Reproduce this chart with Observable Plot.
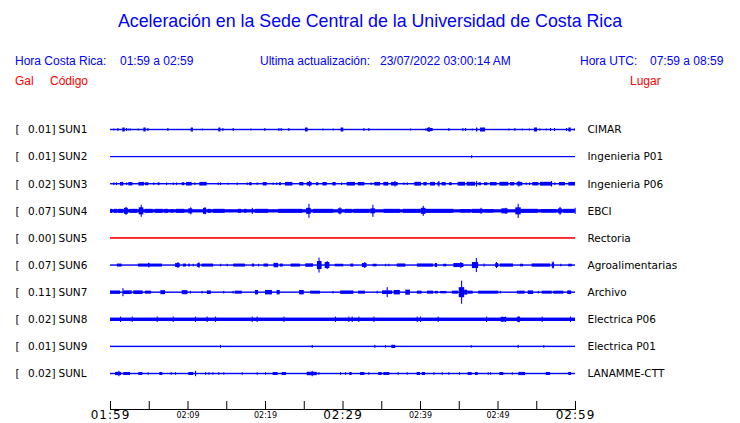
<!DOCTYPE html>
<html><head><meta charset="utf-8">
<script src="https://cdn.jsdelivr.net/npm/d3@7"></script>
<script src="https://cdn.jsdelivr.net/npm/@observablehq/plot@0.6"></script>
<style>
body{margin:0;background:#fff;width:740px;height:423px;overflow:hidden;font-family:"Liberation Sans",Arial,sans-serif;}
#head{position:relative;height:100px;width:740px;}
#head span{position:absolute;white-space:pre;font-size:12px;line-height:14px;}
#head .title{left:0;width:740px;text-align:center;top:10px;font-size:17.8px;line-height:22px;color:blue;}
.b{color:blue;} .r{color:red;}
#chart svg{display:block;}
</style></head>
<body>
<div id="head"></div>
<div id="chart"></div>
<script>
// ---- texts ----
const TITLE = "Aceleración en la Sede Central de la Universidad de Costa Rica";
const HEADER_ROW1 = ["Hora Costa Rica:", "01:59 a 02:59", "Ultima actualización:", "23/07/2022 03:00:14 AM", "Hora UTC:", "07:59 a 08:59"];
const HEADER_ROW2 = ["Gal", "Código", "Lugar"];

// ---- stations ----
const codes  = ["SUN1","SUN2","SUN3","SUN4","SUN5","SUN6","SUN7","SUN8","SUN9","SUNL"];
const peaks  = [0.01, 0.01, 0.02, 0.07, 0.00, 0.07, 0.11, 0.02, 0.01, 0.02];
const places = ["CIMAR","Ingenieria P01","Ingenieria P06","EBCI","Rectoria","Agroalimentarias","Archivo","Electrica P06","Electrica P01","LANAMME-CTT"];
// baseline (background noise) level per trace
const noise  = [0.7, 0.6, 0.7, 1.6, 0.8, 0.7, 0.7, 1.7, 0.7, 0.7];

// ---- time axis (minutes after 01:59) ----
const majorTicks = [0, 5, 10, 15, 20, 25, 30, 35, 40, 45, 50, 55, 60];
const bigLabelTimes = [0, 30, 60];
const bigLabels = ["01:59", "02:29", "02:59"];
const smallLabelTimes = [10, 20, 40, 50];
const smallLabels = ["02:09", "02:19", "02:39", "02:49"];

// ---- bursts per trace: [start minute, end minute, half amplitude] ----
const SUN1 = [[0.43,0.43,1],[0.95,0.95,1.5],[1.59,1.9,2],[2.06,2.06,1.5],[2.37,2.37,1],[2.58,2.58,1],[3.57,3.57,1],[4.30,4.6,2],[4.82,4.82,1.5],[7.40,7.40,1.5],[10.41,10.7,2],[11.83,11.83,1],[13.98,14.25,2],[14.49,14.49,1.5],[15.83,15.83,1.5],[18.11,18.11,1],[19.91,19.91,1.5],[21.72,21.72,1.5],[22.02,22.02,1.5],[23.01,23.01,1.5],[25.16,25.5,2],[27.40,27.40,1],[28.73,28.73,1],[29.76,30.1,2],[32.69,32.69,1.5],[33.33,33.33,1.5],[38.71,38.71,1],[40.65,40.65,1],[40.86,41.63,1.5],[41.0,41.3,2.2],[43.66,43.66,1.5],[45.46,45.46,1.5],[45.81,45.81,1.5],[46.67,46.67,1],[47.23,47.4,2],[47.74,48.39,2],[51.40,51.40,1],[52.17,52.17,1.5],[53.12,53.12,1],[54.06,54.06,1],[54.71,55.10,2],[55.40,55.40,1],[56.22,56.22,1],[56.77,56.9,1.5],[57.29,57.29,1.5],[58.84,58.84,1.5],[59.14,59.45,2],[59.85,59.85,1]];
const SUN2 = [[46.6,46.6,1.5]];
const SUN3 = [[0.43,0.43,1.3],[0.77,0.77,1.3],[1.29,1.72,1.8],[2.06,2.06,1.3],[2.37,2.88,1.7],[3.66,4.39,1.8],[4.52,4.95,1.5],[5.59,5.59,1.3],[6.15,6.37,1.5],[7.23,7.23,1.3],[8.09,8.09,1.3],[8.52,8.52,1.3],[9.25,9.59,1.5],[9.81,10.54,1.8],[10.88,10.88,1.3],[11.53,12.47,1.8],[13.89,13.89,1.3],[14.19,14.19,1.3],[15.18,15.18,1],[16.34,16.34,1.3],[17.63,17.63,1.3],[17.93,18.28,1.5],[18.92,18.92,1.3],[19.70,20.22,1.7],[20.99,20.99,1.3],[21.42,21.42,1.3],[21.81,22.06,1.5],[22.58,23.53,1.8],[24.43,24.95,1.7],[25.38,26.02,1.8],[25.68,25.68,2.8],[26.58,26.88,1.5],[27.40,27.96,1.7],[28.69,29.12,1.7],[29.81,29.81,1.3],[30.54,31.61,1.8],[31.96,32.82,1.7],[33.63,33.63,1.3],[34.11,34.84,1.8],[35.27,35.91,1.8],[36.26,37.12,1.8],[36.69,36.69,2.8],[37.85,37.85,1.3],[38.28,38.28,1.3],[39.27,40.13,1.9],[40.43,40.86,1.7],[41.29,41.94,1.8],[42.24,42.49,1.7],[42.37,42.37,2.8],[42.79,43.31,1.7],[43.74,44.09,1.5],[44.86,45.81,1.9],[46.02,47.10,1.9],[47.23,47.23,2.8],[47.53,47.87,1.5],[48.26,48.69,1.5],[49.03,49.89,1.7],[50.24,51.40,1.9],[51.61,52.17,1.7],[52.47,53.20,1.8],[52.69,52.69,2.8],[53.63,53.63,1.3],[54.06,54.06,1.3],[54.49,55.27,1.7],[55.48,56.99,1.9],[56.90,56.90,2.8],[57.33,57.33,1.3],[57.93,58.71,1.7],[59.14,60,1.8]];
const SUN4 = [[0,0.3,2],[0.5,0.9,2],[1.0,1.7,2],[1.8,2.3,3],[2.0,2.0,4],[2.5,3.5,2],[3.7,4.3,3.5],[3.96,3.96,6],[4.5,5.5,2],[5.8,6.8,2],[7.0,7.5,2],[7.8,8.2,1.8],[8.5,9.6,2],[10.1,10.6,2.5],[10.35,10.35,3.5],[12.0,12.4,3],[12.2,12.2,3.5],[12.6,13.0,2],[13.3,14.8,2],[15.4,15.4,1.5],[16.5,16.9,2],[17.3,17.6,2],[18.3,18.3,3],[18.7,20.4,2],[21.0,21.0,1.5],[21.7,24.8,2],[25.3,25.9,3],[25.6,25.6,7],[26.2,28.8,2],[29.4,29.9,2.5],[29.6,29.6,3.5],[30.3,31.2,2],[31.4,33.5,2],[33.6,34.2,2.5],[33.85,33.85,6],[35.3,37.4,2],[37.8,40.0,2],[40.1,40.7,3],[40.35,40.35,5],[40.6,44.3,2],[45.2,46.5,1.8],[46.7,48.1,2],[47.8,47.8,3],[48.3,49.5,1.8],[50.5,51.3,2.5],[51.0,51.0,3],[52.3,53.0,3.5],[52.6,52.6,7],[53.0,55.2,2],[55.6,57.6,1.8],[57.8,58.3,2.5],[58.0,58.0,4],[58.5,59.9,2],[59.95,59.95,3]];
const SUN5 = [];
const SUN6 = [[0.9,1.5,1.5],[3.6,6.7,1.5],[4.9,5.1,2.2],[8.4,9.0,2],[8.7,8.7,3],[9.4,9.8,1.5],[10.1,10.3,1.5],[10.67,10.67,1.3],[11.2,11.6,1.8],[11.4,11.4,2.8],[11.8,13.3,1.5],[14.2,14.2,1.3],[15.05,15.05,1.3],[15.9,17.4,1.5],[18.3,18.6,1.5],[19.1,19.1,1.3],[19.8,20.4,1.5],[21.1,21.7,2.2],[21.9,22.3,1.5],[23.3,24.5,1.5],[25.2,26.2,1.7],[26.7,27.3,4],[26.9,26.9,7.5],[27.7,28.3,3],[27.95,27.95,4],[29.0,30.1,1.3],[31.0,31.4,1.5],[32.5,33.1,2],[32.8,32.8,3],[33.9,34.4,1.3],[35.5,35.5,1.3],[35.9,35.9,1.3],[37.0,38.1,1.6],[39.6,41.7,1.6],[41.9,42.2,2],[43.0,43.4,1.3],[44.3,45.6,2],[45.2,45.2,3],[46.7,47.5,3],[47.2,47.2,7],[48.2,48.2,1.5],[49.7,50.1,2],[49.8,49.8,3],[50.3,52.0,1.6],[52.9,53.3,1.3],[54.4,56.8,1.6],[57.0,57.3,2.5],[57.1,57.1,3.5],[58.1,58.1,1.3],[59.1,59.6,1.3]];
const SUN7 = [[0,1.3,1.7],[1.6,1.6,4],[1.7,2.8,1.8],[3.0,4.2,1.8],[4.5,5.3,1.5],[6.5,7.1,2],[9.25,10.0,2],[10.3,10.3,1.3],[11.8,11.8,1.3],[12.5,13.0,1.8],[14.6,14.6,1.3],[15.8,15.8,1.3],[16.1,17.0,1.5],[18.7,19.1,2.2],[20.0,20.9,2.2],[21.5,21.9,2.2],[24.4,25.0,2.2],[25.8,27.1,1.5],[28.7,28.7,1.3],[29.7,31.4,1.7],[32.0,32.9,1.5],[34.4,34.4,1.3],[35.1,36.4,1.8],[35.7,35.7,5],[36.6,37.4,2.2],[38.1,38.7,2.5],[39.6,40.2,1.5],[40.9,41.7,1.5],[41.9,42.3,1.3],[42.6,43.4,1.2],[44.1,44.9,1.5],[45.0,45.7,5],[45.3,45.3,11.5],[45.7,46.1,2.5],[46.1,46.8,1.5],[47.5,50.1,1.5],[50.3,50.3,1.3],[52.5,53.5,1.5],[53.9,54.6,1.8],[55.2,55.2,1.3],[55.7,57.0,1.5],[57.2,58.5,1.5],[59.0,59.5,1.8]];
const SUN8 = [[1.29,1.29,2.7],[2.80,2.80,2.7],[6.02,6.02,2.7],[8.09,8.09,2.7],[10.97,10.97,2.7],[12.47,12.47,2.7],[13.55,13.55,2.7],[18.28,18.28,2.7],[18.92,18.92,2.7],[22.37,22.37,2.7],[29.03,29.03,2.7],[30.75,30.75,2.7],[31.18,31.18,2.7],[32.04,32.04,2.7],[33.98,33.98,2.7],[39.57,39.57,2.7],[40.0,40.0,2.7],[42.28,42.28,2.7],[48.52,48.52,2.7],[50.4,51.1,2.3],[50.54,50.54,2.7],[50.97,50.97,2.7],[52.5,52.9,2.5],[52.69,52.69,3],[55.70,55.70,2.7],[59.35,59.35,2.7]];
const SUN9 = [[14.19,14.19,1.5],[26.02,26.02,1.5],[34.1,34.1,1.5],[35.48,35.48,1.3],[36.3,36.8,1.6],[46.54,46.54,1.3],[52.6,52.6,1.6],[55.91,55.91,1.3]];
const SUNL = [[0.65,1.42,1.6],[1.08,1.08,2.7],[1.72,2.58,1.5],[3.66,4.17,1.5],[4.86,4.86,1.3],[6.37,6.75,1.5],[7.83,7.83,1.3],[8.39,8.39,1.3],[10.11,10.75,1.5],[10.97,10.97,2.7],[12.26,12.26,1.3],[12.69,12.69,1.3],[13.20,13.20,1.3],[13.98,13.98,1.3],[14.62,14.62,1.3],[16.99,16.99,1.3],[18.92,18.92,1.3],[20.0,20.0,1.3],[20.99,21.63,1.5],[22.15,22.71,1.5],[25.38,26.67,1.7],[26.02,26.02,2.7],[26.88,26.88,1.3],[29.68,29.68,1.3],[30.32,30.32,1.3],[30.88,31.18,1.5],[32.26,32.82,1.5],[33.33,33.33,1.3],[34.62,35.05,1.5],[35.27,36.04,1.5],[37.12,37.12,1.3],[38.28,38.28,1.3],[39.57,40.0,1.5],[40.22,40.65,1.5],[41.72,41.72,1.3],[42.80,42.80,1.3],[43.66,43.66,1.3],[45.03,45.03,1.3],[46.15,46.67,1.5],[47.10,47.44,1.5],[48.73,48.73,1.3],[49.03,49.03,1.3],[50.24,50.75,1.5],[51.83,51.83,1.3],[52.69,53.55,1.6],[56.22,56.77,1.5],[59.14,59.48,1.5]];
const traces = [SUN1, SUN2, SUN3, SUN4, SUN5, SUN6, SUN7, SUN8, SUN9, SUNL];

// ---- header ----
const head = document.getElementById("head");
function span(text, cls, left, top) {
  const s = document.createElement("span");
  s.textContent = text; s.className = cls;
  if (left !== null) s.style.left = left + "px";
  s.style.top = top + "px";
  head.appendChild(s);
}
span(TITLE, "title", null, 10);
const row1Left = [15, 120, 260, 380, 580, 650];
HEADER_ROW1.forEach((t, i) => span(t, "b", row1Left[i], 54));
const row2Left = [15, 50, 630];
HEADER_ROW2.forEach((t, i) => span(t, "r", row2Left[i], 74));

// ---- data tables for Plot ----
const SPACING = 27;
const stations = codes.map((c, i) => ({
  code: c, peak: peaks[i], place: places[i], row: i,
  color: c === "SUN5" ? "red" : "blue", noise: noise[i]
}));
const bursts = traces.flatMap((tr, i) => tr.map(([t0, t1, a]) => ({
  t0, t1, amp: a, row: i, color: stations[i].color
})));
const baseTop = d => d.row * SPACING - d.noise;
const baseBot = d => d.row * SPACING + d.noise;

const chart = Plot.plot({
  width: 740, height: 323,
  marginLeft: 110, marginRight: 165, marginTop: 0, marginBottom: 14,
  x: {domain: [0, 60], axis: null},
  y: {domain: [0, 9 * SPACING], range: [29.5, 273.5], axis: null},
  color: {type: "identity"},
  style: {fontFamily: "'DejaVu Sans', sans-serif", color: "black", background: "white"},
  marks: [
    Plot.rect(stations, {x1: 0, x2: 60, y1: baseTop, y2: baseBot, fill: "color"}),
    Plot.rect(bursts, {
      x1: "t0", x2: d => Math.max(d.t1, d.t0 + 0.14),
      y1: d => d.row * SPACING - d.amp, y2: d => d.row * SPACING + d.amp,
      fill: "color"
    }),
    Plot.text(stations, {y: d => d.row * SPACING, text: () => "[", frameAnchor: "left", dx: -95, textAnchor: "start", fontSize: 10.5}),
    Plot.text(stations, {y: d => d.row * SPACING, text: d => d.peak.toFixed(2) + "]", frameAnchor: "left", dx: -55, textAnchor: "end", fontSize: 10.5}),
    Plot.text(stations, {y: d => d.row * SPACING, text: "code", frameAnchor: "left", dx: -52, textAnchor: "start", fontSize: 10.5}),
    Plot.text(stations, {y: d => d.row * SPACING, text: "place", frameAnchor: "right", dx: 12, textAnchor: "start", fontSize: 10.5}),
    Plot.frame({anchor: "bottom", stroke: "black"}),
    Plot.ruleX(majorTicks, {x: d => d, insetTop: 301, stroke: "black"}),
    Plot.text(bigLabelTimes, {x: d => d, text: (d, i) => bigLabels[i], frameAnchor: "bottom", dy: 6, lineAnchor: "middle", fontSize: 12}),
    Plot.text(smallLabelTimes, {x: d => d, text: (d, i) => smallLabels[i], frameAnchor: "bottom", dy: 6, lineAnchor: "middle", fontSize: 8})
  ]
});
// slight letter spacing on the big time labels, as in the original
chart.querySelectorAll("text").forEach(t => {
  if (bigLabels.includes(t.textContent)) t.setAttribute("letter-spacing", "1");
});
document.getElementById("chart").appendChild(chart);
</script>
</body></html>
